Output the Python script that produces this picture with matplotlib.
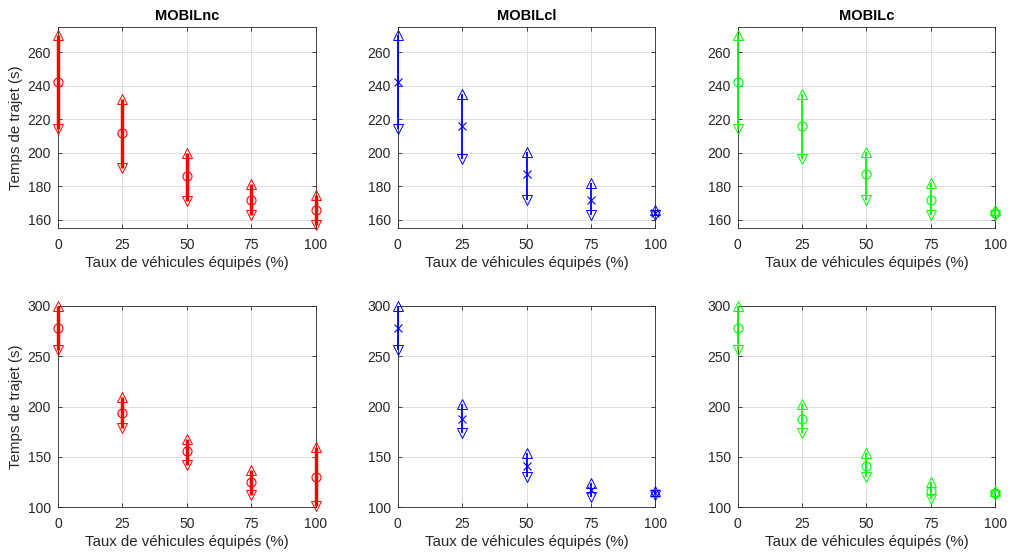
import matplotlib.pyplot as plt
import numpy as np

plt.rcParams['font.family'] = ['Liberation Sans', 'DejaVu Sans']

# Data
taux = [0, 25, 50, 75, 100]
titres = ['MOBILnc', 'MOBILcl', 'MOBILc']
couleurs = ['#ff0000', '#0000ff', '#00ff00']
marqueurs = ['o', 'x', 'o']
epaisseurs = [2.5, 1.3, 1.3]

# top row (scenario 1): mean, upper, lower
moy_haut = [
    [242, 211.5, 186, 172, 166],
    [242, 216, 187, 172, 164],
    [242, 216, 187, 172, 164],
]
sup_haut = [
    [270, 232, 200, 181, 175],
    [270, 235, 200.5, 182, 166],
    [270, 235, 200.5, 182, 166],
]
inf_haut = [
    [214, 191, 171, 163, 157],
    [214, 196.5, 172, 163, 162.5],
    [214, 196.5, 172, 163, 162.5],
]

# bottom row (scenario 2)
moy_bas = [
    [278, 194, 155.5, 125, 130],
    [278, 188, 141.5, 117, 114],
    [278, 188, 141, 116, 114],
]
sup_bas = [
    [300, 210, 168, 137, 160],
    [300, 203, 154, 124, 116],
    [300, 203, 154, 125, 116],
]
inf_bas = [
    [256, 179, 142, 112, 101],
    [256, 174, 130, 110, 112],
    [256, 174, 130, 108, 112],
]

lefts = [0.0574, 0.3938, 0.7304]
largeur = 0.2550
rows = [(0.5884, 0.3628), (0.0843, 0.3634)]

fig = plt.figure(figsize=(10.1, 5.54), dpi=100)
gris = '#262626'


def style_axes(ax, ylim, yticks):
    ax.set_xlim(0, 100)
    ax.set_ylim(*ylim)
    ax.set_xticks(taux)
    ax.set_yticks(yticks)
    ax.tick_params(direction='in', length=3, width=0.6, colors=gris,
                   labelsize=10, top=True, right=True, pad=5)
    ax.tick_params(axis='x', pad=7)
    for sp in ax.spines.values():
        sp.set_color(gris)
        sp.set_linewidth(0.6)
    ax.grid(True, color='#dfdfdf', linewidth=0.7)
    ax.set_axisbelow(True)
    ax.set_xlabel('Taux de véhicules équipés (%)', fontsize=10.8, color=gris, labelpad=3)


for r, (moy, sup, inf, ylim, yticks) in enumerate([
        (moy_haut, sup_haut, inf_haut, (155, 275), np.arange(160, 261, 20)),
        (moy_bas, sup_bas, inf_bas, (100, 300), np.arange(100, 301, 50))]):
    bas, haut = rows[r]
    for c in range(3):
        ax = fig.add_axes([lefts[c], bas, largeur, haut])
        col = couleurs[c]
        ax.vlines(taux, inf[c], sup[c], color=col, linewidth=epaisseurs[c],
                  zorder=3, clip_on=False)
        ax.plot(taux, sup[c], '^', ms=7.5, mfc='none', mec=col, mew=0.7,
                linestyle='none', clip_on=False, zorder=4)
        ax.plot(taux, inf[c], 'v', ms=7.5, mfc='none', mec=col, mew=0.7,
                linestyle='none', clip_on=False, zorder=4)
        ax.plot(taux, moy[c], marqueurs[c], ms=6.5 if marqueurs[c] == 'o' else 6,
                mfc='none', mec=col, mew=0.8,
                linestyle='none', clip_on=False, zorder=4)
        style_axes(ax, ylim, yticks)
        if r == 0:
            ax.set_title(titres[c], fontsize=10.5, fontweight='bold', pad=5)
        if c == 0:
            ax.set_ylabel('Temps de trajet (s)', fontsize=10.8, color=gris, labelpad=3)

fig.savefig('out.png', dpi=100)
